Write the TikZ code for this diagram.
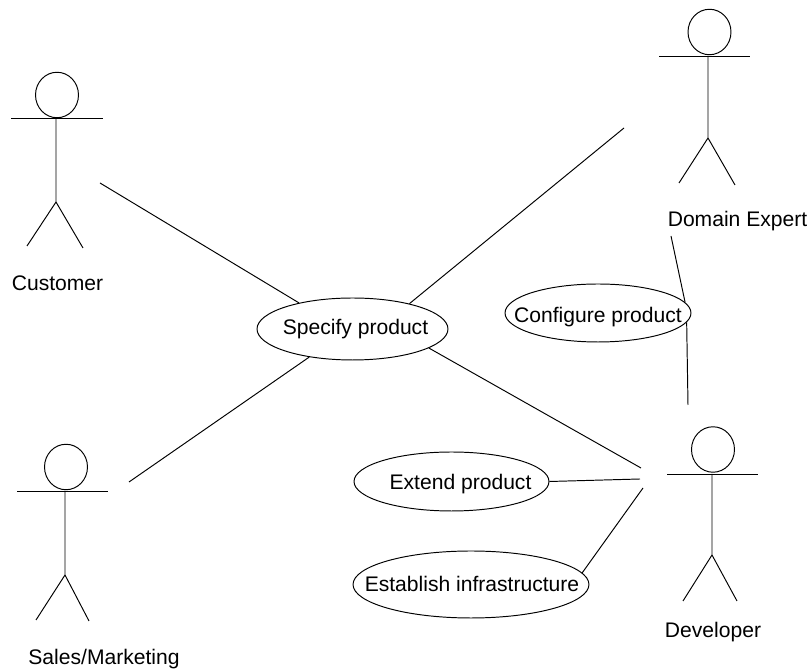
\documentclass[tikz,border=0pt]{standalone}
\usepackage{fontspec}
\setmainfont{Liberation Sans}
\usetikzlibrary{shapes.geometric}
\newcommand{\uctext}[3]{\makebox[0pt]{\hspace{#1}\raisebox{#2}[0pt][0pt]{#3}}}
\tikzset{
	usecase/.style={draw,ellipse,inner sep=0pt},
	head/.style={draw,ellipse,minimum width=0.86cm,minimum height=0.91cm,inner sep=0pt},
	lbl/.style={inner sep=0pt,font=\fontsize{12}{14}\selectfont},
	actorlbl/.style={lbl,anchor=base}
}
\begin{document}
\begin{tikzpicture}[x=0.02cm,y=-0.02cm,line width=0.55pt]
	\useasboundingbox (0,0) rectangle (809,671);
	% actors
	\node[head] (customer) at (57,95) {};
	\draw (11,118)--(103,118);
	\draw (56,118)--(56,202)--(27,246);
	\draw (56,202)--(83,248);
	\node[actorlbl] (customerlbl) at (57.5,291) {Customer};
	\node[head] (expert) at (709.5,32) {};
	\draw (659,56)--(750,56);
	\draw (708,56)--(708,138)--(679,183);
	\draw (708,138)--(735,185);
	\node[actorlbl] (expertlbl) at (737.5,227) {Domain Expert};
	\node[head] (sales) at (66,467) {};
	\draw (17,491)--(108,491);
	\draw (65,491)--(65,575)--(36,620);
	\draw (65,575)--(89,621);
	\node[actorlbl] (saleslbl) at (104,665) {Sales/Marketing};
	\node[head] (developer) at (713,449.5) {};
	\draw (667,474)--(758,474);
	\draw (712,474)--(712,555)--(683,601);
	\draw (712,555)--(737,601);
	\node[actorlbl] (developerlbl) at (713,638) {Developer};
	% use cases
	\node[usecase,lbl,minimum width=3.82cm,minimum height=1.24cm] (specify) at (352.5,329) {\uctext{0.12cm}{-0.12cm}{Specify product}};
	\node[usecase,lbl,minimum width=3.72cm,minimum height=1.16cm] (configure) at (598,313) {\uctext{0cm}{-0.2cm}{Configure product}};
	\node[usecase,lbl,minimum width=3.9cm,minimum height=1.18cm] (extend) at (451.5,481.5) {\uctext{0.36cm}{-0.17cm}{Extend product}};
	\node[usecase,lbl,minimum width=4.72cm,minimum height=1.34cm] (establish) at (471,584.5) {\uctext{0.04cm}{-0.15cm}{Establish infrastructure}};
	% free ends of the connectors
	\coordinate (c1) at (100,183);
	\coordinate (c2) at (624,128);
	\coordinate (c3) at (129,482);
	\coordinate (c4) at (641,468);
	\coordinate (c5) at (640,479);
	\coordinate (c6) at (643,488);
	\coordinate (c7) at (671,236);
	\coordinate (c8) at (688,405);
	\draw (specify.154)--(c1);
	\draw (specify.24)--(c2);
	\draw (specify.213)--(c3);
	\draw (specify.-14)--(c4);
	\draw (extend.east)--(c5);
	\draw (establish.6)--(c6);
	\draw (configure.7)--(c7);
	\draw (configure.-6)--(c8);
\end{tikzpicture}
\end{document}
